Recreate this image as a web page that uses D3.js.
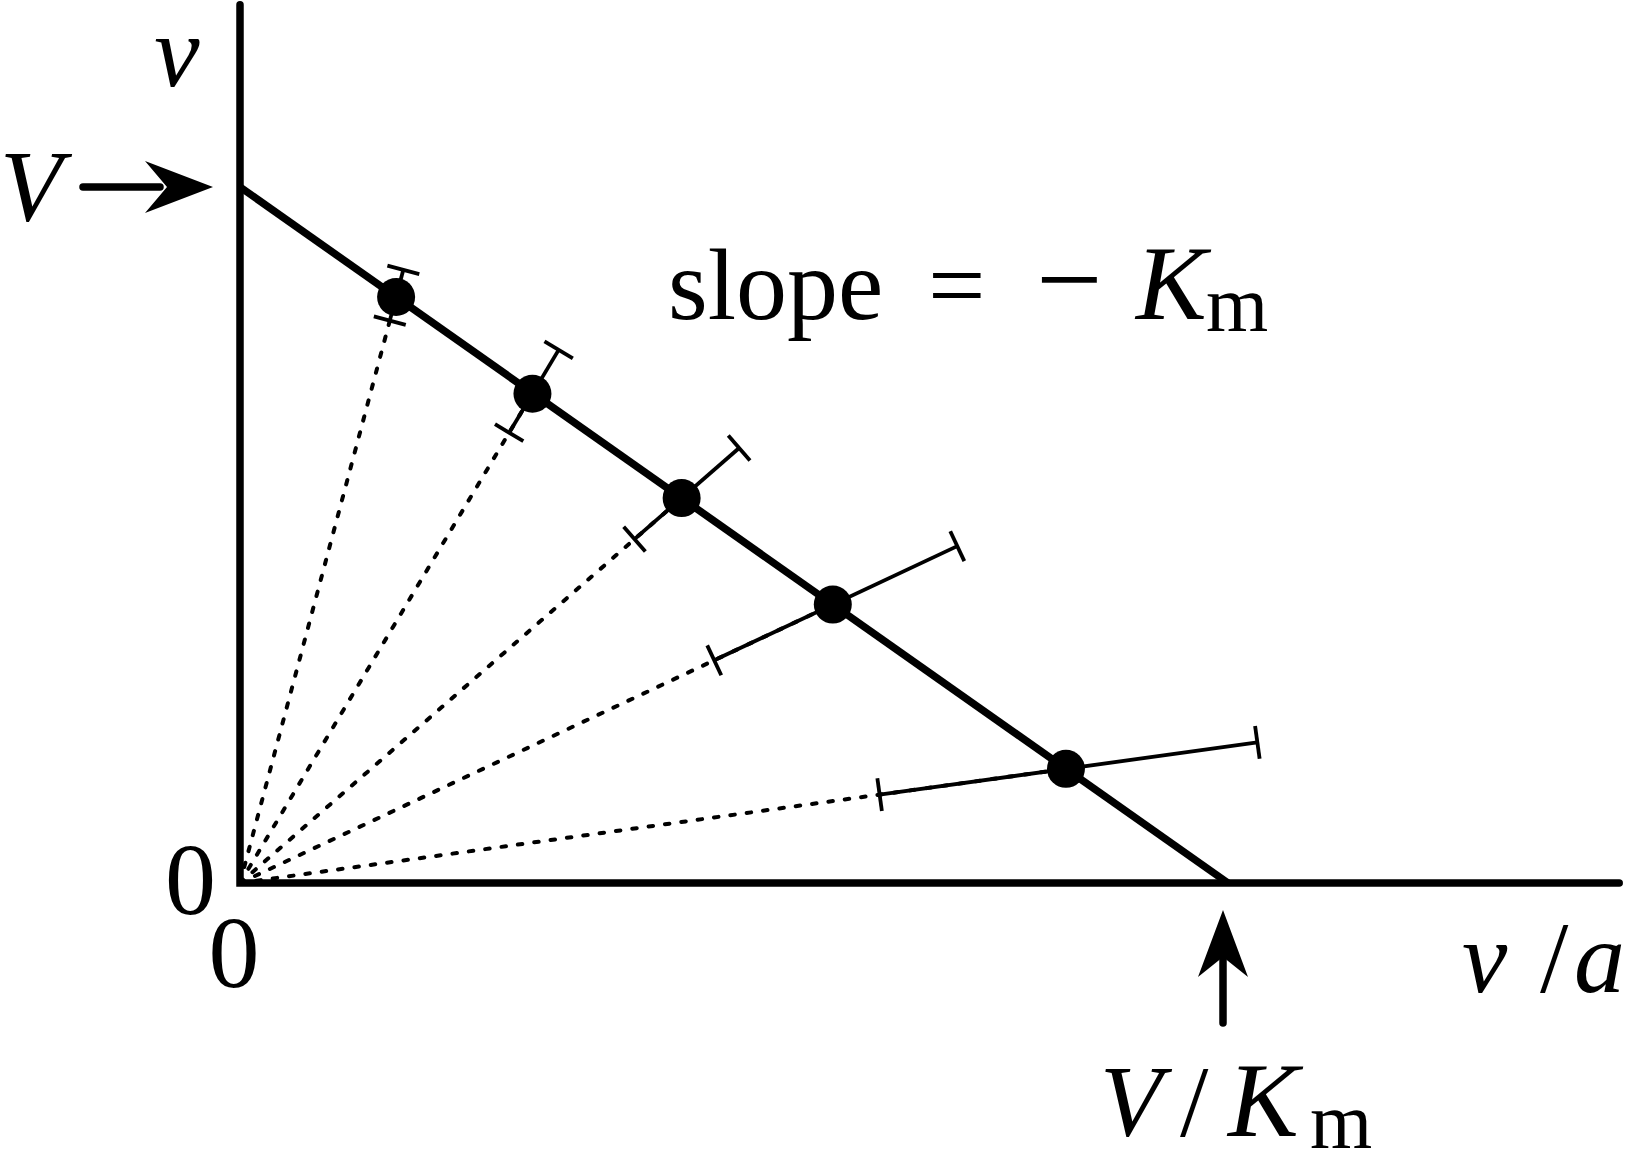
<!DOCTYPE html>
<html>
<head>
<meta charset="utf-8">
<script src="https://cdn.jsdelivr.net/npm/d3@7"></script>
<style>
  html, body { margin: 0; padding: 0; background: #fff; }
  svg { display: block; }
  text { font-family: "Liberation Serif", "DejaVu Serif", serif; fill: #000; }
</style>
</head>
<body>
<svg id="chart" width="1629" height="1154"></svg>
<script>
// ---- data (normalised units: V = 1, V/Km = 1) ----
const Vmax = 1.0;            // intercept on the v axis
const VoverKm = 1.0;         // intercept on the v/a axis
const xOverA = [0.158, 0.296, 0.447, 0.600, 0.836];   // v/a of each point
const vObs   = [0.842, 0.703, 0.553, 0.400, 0.164];   // v of each point
const vLow   = [0.808, 0.647, 0.494, 0.320, 0.127];   // lower end of error in v
const vHigh  = [0.881, 0.766, 0.625, 0.484, 0.202];   // upper end of error in v
const xMax = 1.4, yMax = 1.262;
const slopeLabel = ["slope", "=", "\u2212", "K", "m"];

const svg = d3.select("#chart");
const x = d3.scaleLinear().domain([0, xMax]).range([240, 240 + 988 * xMax]);
const y = d3.scaleLinear().domain([0, yMax]).range([883, 883 - 696 * yMax]);

const pts = xOverA.map((xv, i) => {
  const a = vObs[i] / xv;   // substrate concentration
  return { x: xv, v: vObs[i], a,
           lo: { x: vLow[i] / a, v: vLow[i] },
           hi: { x: vHigh[i] / a, v: vHigh[i] } };
});

// dotted rays from the origin
svg.append("g").selectAll("line").data(pts).join("line")
  .attr("x1", x(0)).attr("y1", y(0))
  .attr("x2", d => x(d.x)).attr("y2", d => y(d.v))
  .attr("stroke", "#000").attr("stroke-width", 4)
  .attr("stroke-dasharray", "4.5,12").attr("stroke-linecap", "round");

// error bars along the rays
const eb = svg.append("g");
pts.forEach(d => {
  const x1 = x(d.lo.x), y1 = y(d.lo.v), x2 = x(d.hi.x), y2 = y(d.hi.v);
  eb.append("line").attr("x1", x1).attr("y1", y1).attr("x2", x2).attr("y2", y2)
    .attr("stroke", "#000").attr("stroke-width", 3.8);
  const dx = x2 - x1, dy = y2 - y1, L = Math.hypot(dx, dy);
  const px = -dy / L * 16.5, py = dx / L * 16.5;
  [[x1, y1], [x2, y2]].forEach(([cx, cy]) => {
    eb.append("line").attr("x1", cx - px).attr("y1", cy - py)
      .attr("x2", cx + px).attr("y2", cy + py)
      .attr("stroke", "#000").attr("stroke-width", 3.8);
  });
});

// axes
svg.append("path")
  .attr("d", `M${x(0)},${y(yMax)} L${x(0)},${y(0)} L${x(xMax) - 4},${y(0)}`)
  .attr("fill", "none").attr("stroke", "#000").attr("stroke-width", 7.5)
  .attr("stroke-linecap", "round").attr("stroke-linejoin", "miter");

// fitted line
svg.append("line")
  .attr("x1", x(0)).attr("y1", y(Vmax))
  .attr("x2", x(VoverKm)).attr("y2", y(0))
  .attr("stroke", "#000").attr("stroke-width", 7.5);

// points
svg.append("g").selectAll("circle").data(pts).join("circle")
  .attr("cx", d => x(d.x)).attr("cy", d => y(d.v)).attr("r", 19)
  .attr("fill", "#000");

// arrow pointing at V
const ay = y(Vmax), ax = x(0);
svg.append("line").attr("x1", ax - 157).attr("y1", ay).attr("x2", ax - 80).attr("y2", ay)
  .attr("stroke", "#000").attr("stroke-width", 7.5).attr("stroke-linecap", "round");
svg.append("path")
  .attr("d", `M${ax - 27},${ay} L${ax - 95},${ay - 26} L${ax - 73},${ay} L${ax - 95},${ay + 26} Z`)
  .attr("fill", "#000");

// arrow pointing at V/Km
const bx = x(VoverKm) - 5, by = y(0);
svg.append("line").attr("x1", bx).attr("y1", by + 140).attr("x2", bx).attr("y2", by + 66)
  .attr("stroke", "#000").attr("stroke-width", 7.5).attr("stroke-linecap", "round");
svg.append("path")
  .attr("d", `M${bx},${by + 27} L${bx - 25},${by + 94} L${bx},${by + 74} L${bx + 25},${by + 94} Z`)
  .attr("fill", "#000");

// labels
const fs = 102;
svg.append("text").attr("x", 177).attr("y", 86).attr("text-anchor", "middle")
  .attr("font-size", fs).attr("font-style", "italic").text("v");
svg.append("text").attr("x", 0).attr("y", 221)
  .attr("font-size", fs).attr("font-style", "italic").text("V");
svg.append("text").attr("x", 216).attr("y", 914).attr("text-anchor", "end")
  .attr("font-size", fs).text("0");
svg.append("text").attr("x", 234).attr("y", 987).attr("text-anchor", "middle")
  .attr("font-size", fs).text("0");

const va = svg.append("text").attr("y", 992).attr("font-size", fs);
va.append("tspan").attr("x", 1462).attr("font-style", "italic").text("v");
va.append("tspan").attr("x", 1540).text("/");
va.append("tspan").attr("x", 1574).attr("font-style", "italic").text("a");

const vk = svg.append("text").attr("y", 1136).attr("font-size", fs);
vk.append("tspan").attr("x", 1100).attr("font-style", "italic").text("V");
vk.append("tspan").attr("x", 1180).text("/");
vk.append("tspan").attr("x", 1228).attr("font-style", "italic").attr("font-size", 106).text("K");
vk.append("tspan").attr("x", 1310).attr("dy", 12).attr("font-size", 80).text("m");

const sl = svg.append("text").attr("y", 319).attr("font-size", fs);
sl.append("tspan").attr("x", 668).text(slopeLabel[0]);
sl.append("tspan").attr("x", 928).text(slopeLabel[1]);
sl.append("tspan").attr("x", 1036).attr("font-size", 118).text(slopeLabel[2]);
sl.append("tspan").attr("x", 1136).attr("font-style", "italic").attr("font-size", 106).text(slopeLabel[3]);
sl.append("tspan").attr("x", 1206).attr("dy", 12).attr("font-size", 80).text(slopeLabel[4]);
</script>
</body>
</html>
